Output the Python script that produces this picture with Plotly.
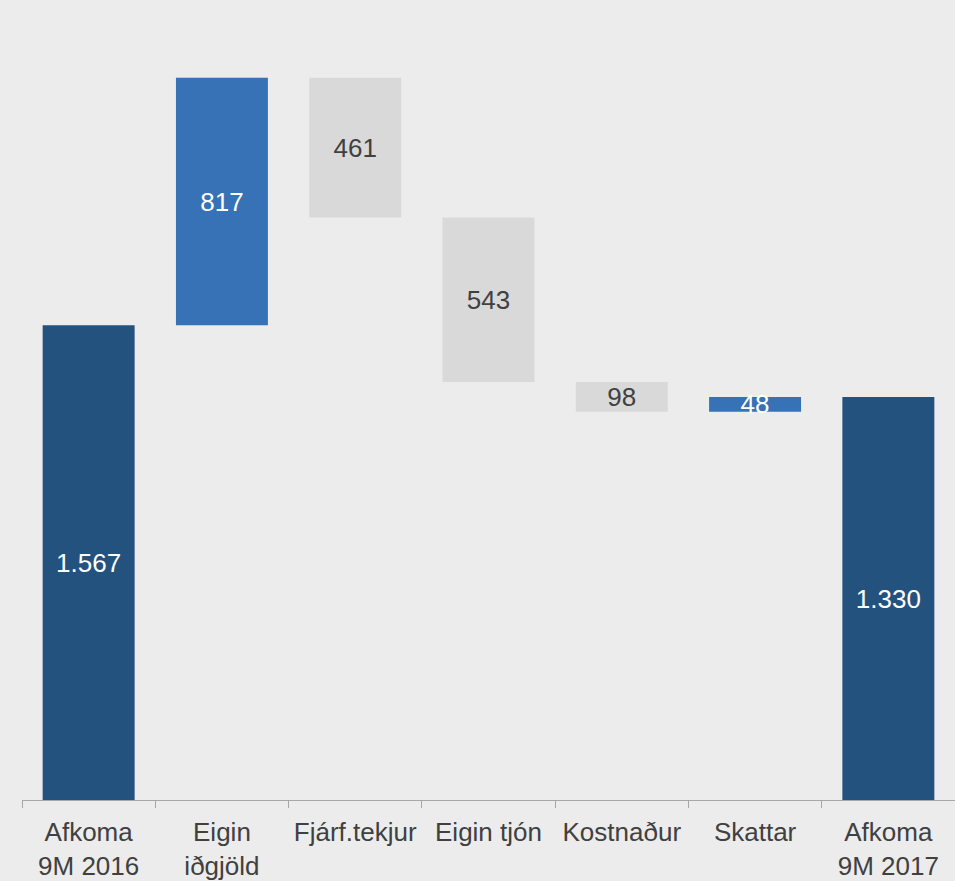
import plotly.graph_objects as go

categories = ["Afkoma<br>9M 2016", "Eigin<br>iðgjöld", "Fjárf.tekjur", "Eigin tjón",
              "Kostnaður", "Skattar", "Afkoma<br>9M 2017"]
values = [1567, 817, -461, -543, -98, 48, 1330]
measures = ["absolute", "relative", "relative", "relative", "relative", "relative", "total"]
labels = ["1.567", "817", "461", "543", "98", "48", "1.330"]
label_colors = ["#ffffff", "#ffffff", "#404040", "#404040", "#404040", "#ffffff", "#ffffff"]

FONT = "Liberation Sans, Arial, sans-serif"

fig = go.Figure(go.Waterfall(
    x=categories,
    y=values,
    measure=measures,
    text=labels,
    textposition="inside",
    insidetextanchor="middle",
    constraintext="none",
    textangle=0,
    textfont=dict(family=FONT, size=26, color=label_colors),
    increasing=dict(marker=dict(color="#3672b5", line=dict(width=0))),
    decreasing=dict(marker=dict(color="#d9d9d9", line=dict(width=0))),
    totals=dict(marker=dict(color="#24527f", line=dict(width=0))),
    connector=dict(visible=False),
    width=0.69,
    hoverinfo="skip",
))

fig.update_layout(
    width=955, height=881,
    margin=dict(l=22, r=0, t=0, b=79),
    paper_bgcolor="#ececec",
    plot_bgcolor="#ececec",
    showlegend=False,
    font=dict(family=FONT, size=26, color="#404040"),
)
fig.update_xaxes(
    showline=True, linecolor="#a6a6a6", linewidth=1,
    ticks="outside", tickson="boundaries", ticklen=7, tickcolor="#a6a6a6",
    ticklabelstandoff=9,
    tickfont=dict(family=FONT, size=26, color="#404040"),
    showgrid=False,
)
fig.update_yaxes(range=[0, 2641], visible=False, showgrid=False, zeroline=False)

fig.write_html("out.html",
               config={"displayModeBar": False, "staticPlot": True},
               post_script="document.body.style.margin='0';document.body.style.overflow='hidden';")
